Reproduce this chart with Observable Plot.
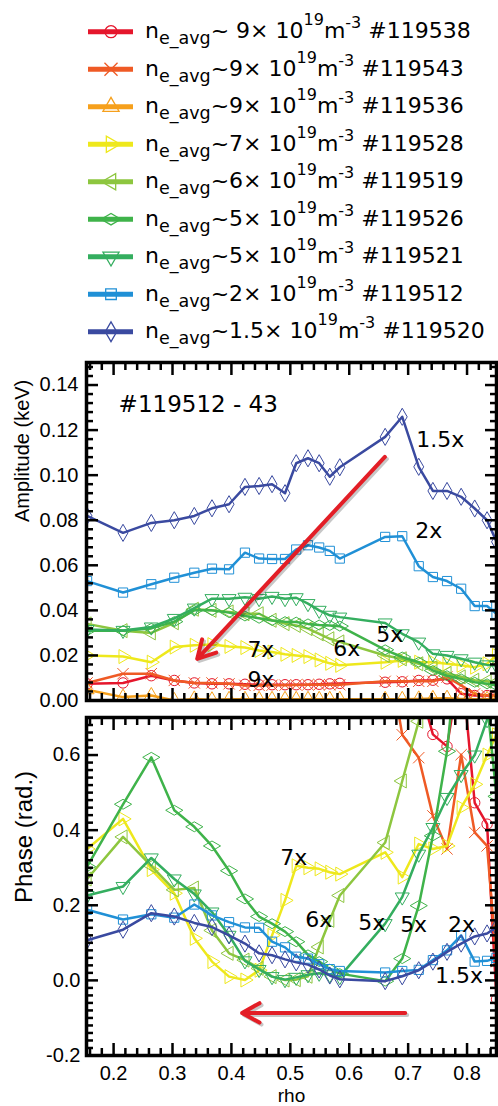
<!DOCTYPE html>
<html><head><meta charset="utf-8">
<script src="https://cdn.jsdelivr.net/npm/d3@7"></script>
<script src="https://cdn.jsdelivr.net/npm/@observablehq/plot@0.6"></script>
<style>
body{margin:0;background:#fff;width:498px;height:1106px;overflow:hidden;position:relative}
#legend{position:absolute;left:0;top:0}
#amp{position:absolute;left:0;top:345px}
#phase{position:absolute;left:0;top:708px}
</style></head><body>
<div id="legend"></div><div id="amp"></div><div id="phase"></div>
<script>
// ---------- data ----------
const shots = ["#119538","#119543","#119536","#119528","#119519","#119526","#119521","#119512","#119520"];
const density = ["9","9","9","7","6","5","5","2","1.5"];
const colors = ["#e5162c","#ef5a25","#f6a01c","#eee81c","#8dc63f","#3fb34a","#34ae5f","#2090d6","#3a4aa0"];
const symbols = ["circle","times","triangle","triangle","triangle","diamond","triangle","square","diamond"];
const rotations = [0,0,0,90,-90,90,180,0,0];

const rho = [0.155,0.216,0.264,0.303,0.337,0.367,0.396,0.423,0.447,0.469,0.491,0.510,0.530,0.549,0.567,0.584,0.661,0.690,0.718,0.742,0.766,0.790,0.813,0.834,0.850];

// amplitude (keV)
const amp119538 = [0.0074,0.0078,0.0110,0.0089,0.0078,0.0074,0.0074,0.0072,0.0070,0.0070,0.0070,0.0070,0.0070,0.0072,0.0074,0.0076,0.0081,0.0083,0.0089,0.0090,0.0096,0.0030,0.0022,0.0022,0.0022];
const amp119543 = [0.0078,0.0119,0.0119,0.0089,0.0078,0.0078,0.0074,0.0067,0.0067,0.0068,0.0068,0.0069,0.0070,0.0070,0.0070,0.0070,0.0085,0.0085,0.0085,0.0085,0.0104,0.0067,0.0030,0.0022,0.0020];
const amp119536 = [0.0048,0.0015,0.0022,0.0000,0.0007,0.0003,0.0005,0.0005,0.0005,0.0005,0.0005,0.0005,0.0005,0.0005,0.0005,0.0005,0.0005,0.0005,0.0007,0.0009,0.0010,0.0007,0.0005,0.0005,0.0005];
const amp119528 = [0.0200,0.0195,0.0170,0.0237,0.0245,0.0248,0.0240,0.0235,0.0222,0.0215,0.0205,0.0200,0.0195,0.0180,0.0165,0.0156,0.0170,0.0178,0.0170,0.0170,0.0163,0.0156,0.0148,0.0163,0.0200];
const amp119519 = [0.0340,0.0310,0.0300,0.0345,0.0405,0.0400,0.0393,0.0385,0.0385,0.0356,0.0341,0.0333,0.0319,0.0296,0.0274,0.0260,0.0200,0.0185,0.0163,0.0145,0.0120,0.0105,0.0090,0.0085,0.0080];
const amp119526 = [0.0310,0.0310,0.0320,0.0350,0.0400,0.0400,0.0390,0.0375,0.0365,0.0355,0.0350,0.0348,0.0340,0.0335,0.0333,0.0330,0.0225,0.0193,0.0170,0.0133,0.0110,0.0096,0.0081,0.0074,0.0067];
const amp119521 = [0.0315,0.0311,0.0326,0.0364,0.0410,0.0452,0.0452,0.0458,0.0452,0.0462,0.0452,0.0456,0.0430,0.0400,0.0378,0.0370,0.0344,0.0296,0.0259,0.0207,0.0200,0.0185,0.0170,0.0158,0.0155];
const amp119512 = [0.0530,0.0479,0.0516,0.0545,0.0567,0.0585,0.0582,0.0656,0.0630,0.0628,0.0628,0.0670,0.0689,0.0679,0.0664,0.0630,0.0726,0.0729,0.0596,0.0548,0.0530,0.0496,0.0419,0.0419,0.0385];
const amp119520 = [0.0819,0.0744,0.0788,0.0800,0.0819,0.0853,0.0871,0.0948,0.0952,0.0960,0.0920,0.1053,0.1075,0.1053,0.0993,0.1035,0.1170,0.1259,0.1037,0.0930,0.0930,0.0904,0.0852,0.0800,0.0704];

// phase (rad.)
const N = null;
const ph119538 = [N,N,N,N,N,N,N,N,N,N,N,N,N,N,N,N,N,N,0.790,0.655,0.623,0.853,0.473,0.416,-0.050];
const ph119543 = [N,N,N,N,N,N,N,N,N,N,N,N,N,N,N,N,0.920,0.654,0.593,0.438,0.350,0.601,0.394,0.358,0.050];
const ph119536 = [N,N,N,N,N,N,N,N,N,N,N,N,N,N,N,N,N,N,N,N,N,N,N,N,N];
const ph119528 = [0.350,0.430,0.295,0.232,0.112,0.050,0.010,0.001,0.027,0.120,0.213,0.305,0.300,0.297,0.288,0.283,0.341,0.275,0.363,0.350,0.358,0.460,0.522,0.600,0.654];
const ph119519 = [0.270,0.382,0.305,0.241,0.246,0.133,0.072,0.054,0.032,0.010,0.001,0.002,0.011,0.089,0.160,0.226,0.367,0.531,0.690,0.950,N,N,N,N,N];
const ph119526 = [0.303,0.469,0.594,0.453,0.409,0.358,0.292,0.217,0.170,0.151,0.130,0.103,0.068,0.050,0.030,0.018,-0.002,0.058,0.199,0.385,0.610,0.990,0.950,0.740,0.490];
const ph119521 = [0.226,0.250,0.326,0.270,0.230,0.182,0.120,0.052,0.029,0.010,0.002,0.008,0.015,0.019,0.015,0.010,0.151,0.222,0.336,0.407,0.487,0.548,0.600,0.694,0.800];
const ph119512 = [0.188,0.162,0.176,0.167,0.202,0.173,0.155,0.141,0.140,0.103,0.088,0.063,0.058,0.043,0.030,0.025,0.021,0.025,0.028,0.054,0.080,0.120,0.050,0.052,0.060];
const ph119520 = [0.107,0.135,0.179,0.170,0.153,0.142,0.120,0.098,0.072,0.067,0.056,0.048,0.042,0.029,0.013,0.003,-0.002,0.011,0.027,0.050,0.076,0.098,0.117,0.125,0.142];

// tick labels
const xTicks = [0.2,0.3,0.4,0.5,0.6,0.7,0.8];
const ampTicks = [0,0.02,0.04,0.06,0.08,0.10,0.12,0.14];
const phaseTicks = [-0.2,0,0.2,0.4,0.6];

// annotations
const ampLabels = [
  {t:"#119512 - 43", x:0.2085, y:0.128, s:23},
  {t:"1.5x", x:0.7136, y:0.1124, s:22},
  {t:"2x", x:0.7119, y:0.072, s:22},
  {t:"5x", x:0.6458, y:0.0258, s:22},
  {t:"6x", x:0.5729, y:0.0196, s:22},
  {t:"7x", x:0.4271, y:0.0191, s:22},
  {t:"9x", x:0.4271, y:0.0058, s:22}
];
const phaseLabels = [
  {t:"7x", x:0.483, y:0.307},
  {t:"6x", x:0.5254, y:0.143},
  {t:"5x", x:0.6153, y:0.135},
  {t:"5x", x:0.6864, y:0.130},
  {t:"2x", x:0.7678, y:0.130},
  {t:"1.5x", x:0.7458, y:-0.008}
];
const ampArrow = [{x1:0.6605, y1:0.1081, x2:0.342, y2:0.0185}];
const phaseArrow = [{x1:0.695, y1:-0.0866, x2:0.418, y2:-0.0866}];

const amps = [amp119538,amp119543,amp119536,amp119528,amp119519,amp119526,amp119521,amp119512,amp119520];
const phases = [ph119538,ph119543,ph119536,ph119528,ph119519,ph119526,ph119521,ph119512,ph119520];

// ---------- legend ----------
const symbolMap = {circle:d3.symbolCircle, times:d3.symbolTimes, triangle:d3.symbolTriangle, diamond:d3.symbolDiamond, square:d3.symbolSquare};
const leg = d3.select("#legend").append("svg").attr("width",498).attr("height",362)
  .attr("font-family","DejaVu Sans").style("display","block");
shots.forEach((s,i)=>{
  const cy = 31.7 + 37.5*i;
  leg.append("line").attr("x1",88).attr("x2",133).attr("y1",cy).attr("y2",cy)
     .attr("stroke",colors[i]).attr("stroke-width",5);
  leg.append("path").attr("d", d3.symbol(symbolMap[symbols[i]], 6*6*Math.PI)())
     .attr("transform",`translate(111,${cy}) rotate(${rotations[i]})`)
     .attr("fill","none").attr("stroke",colors[i]).attr("stroke-width",1.3);
  const t = leg.append("text").attr("x",145).attr("y",cy+6.6).attr("font-size",22)
     .attr("fill","#000").style("white-space","pre");
  t.append("tspan").text("n");
  t.append("tspan").attr("font-size",17.5).attr("dy",6).text("e_avg");
  t.append("tspan").attr("dy",-6).text("~" + (i===0?" ":"") + density[i] + "\u00d7 10");
  t.append("tspan").attr("font-size",16).attr("dy",-13).text("19");
  t.append("tspan").attr("dy",13).text("m");
  t.append("tspan").attr("font-size",16).attr("dy",-10).text("-3");
  t.append("tspan").attr("dy",10).text(" " + s);
});

// ---------- shared ----------
const xMinor = d3.range(8,43).filter(k=>k%5!==0).map(k=>+(k*0.02).toFixed(2));
const ampMinor = d3.range(1,38).filter(k=>k%5!==0).map(k=>+(k*0.004).toFixed(3));
const phMinor = d3.range(-9,35).filter(k=>k%10!==0).map(k=>+(k*0.02).toFixed(2));
const TW = 2.5;

function tickMarks(yMajor, yMinor){
  const o = {fill:"none", strokeWidth:TW, stroke:"#000"};
  return [
    Plot.axisX(xMinor, {...o, anchor:"bottom", tickSize:-7}),
    Plot.axisX(xMinor, {...o, anchor:"top", tickSize:-7}),
    Plot.axisX(xTicks, {...o, anchor:"bottom", tickSize:-12}),
    Plot.axisX(xTicks, {...o, anchor:"top", tickSize:-12}),
    Plot.axisY(yMinor, {...o, anchor:"left", tickSize:-7}),
    Plot.axisY(yMinor, {...o, anchor:"right", tickSize:-7}),
    Plot.axisY(yMajor, {...o, anchor:"left", tickSize:-12}),
    Plot.axisY(yMajor, {...o, anchor:"right", tickSize:-12})
  ];
}
function seriesMarks(vals){
  const out = [];
  vals.forEach((arr,i)=>{
    const rows = rho.map((r,j)=>({rho:r, v:arr[j]}));
    out.push(Plot.line(rows, {x:"rho", y:"v", stroke:colors[i], strokeWidth:2.5, clip:true}));
    out.push(Plot.dot(rows.filter(d=>d.v!=null), {x:"rho", y:"v", symbol:symbols[i], rotate:rotations[i], r:5.2,
      stroke:colors[i], strokeWidth:1, fill:"none", clip:true}));
  });
  return out;
}
function arrowMarks(a){
  const o = {x1:"x1",y1:"y1",x2:"x2",y2:"y2", strokeWidth:4, headLength:7.5, headAngle:58};
  return [
    Plot.arrow(a, {...o, stroke:"#000", strokeOpacity:0.22, dx:2, dy:2}),
    Plot.arrow(a, {...o, stroke:"#e31e26"})
  ];
}
const style = {fontFamily:"Liberation Sans", fontSize:"20px", color:"#000", background:"transparent", overflow:"visible"};

// ---------- amplitude ----------
const ampPlot = Plot.plot({
  width:498, height:363, marginLeft:86, marginRight:2, marginTop:17, marginBottom:8,
  style,
  x:{domain:[0.154,0.85]},
  y:{domain:[0,0.15]},
  marks:[
    ...seriesMarks(amps),
    ...arrowMarks(ampArrow),
    Plot.text(ampLabels, {x:"x", y:"y", text:"t", fontSize:"s", textAnchor:"start", lineAnchor:"bottom", fontFamily:"DejaVu Sans", fill:"#000"}),
    ...tickMarks(ampTicks, ampMinor),
    Plot.axisY(ampTicks, {anchor:"left", tickSize:0, tickPadding:8, tickFormat:d=>d.toFixed(2), label:null}),
    Plot.text(["Amplitude (keV)"], {frameAnchor:"left", rotate:-90, dx:-63.5, dy:-9.5, fontSize:20, fill:"#000"}),
    Plot.frame({stroke:"#000", strokeWidth:3.5})
  ]
});
document.getElementById("amp").append(ampPlot);

// ---------- phase ----------
const phPlot = Plot.plot({
  width:498, height:398, marginLeft:86, marginRight:2, marginTop:9, marginBottom:51,
  style,
  x:{domain:[0.154,0.85]},
  y:{domain:[-0.2,0.7]},
  marks:[
    ...seriesMarks(phases),
    ...arrowMarks(phaseArrow),
    Plot.text(phaseLabels, {x:"x", y:"y", text:"t", fontSize:22, textAnchor:"start", lineAnchor:"bottom", fontFamily:"DejaVu Sans", fill:"#000"}),
    ...tickMarks(phaseTicks, phMinor),
    Plot.axisY(phaseTicks, {anchor:"left", tickSize:0, tickPadding:6, tickFormat:d=>d.toFixed(1), label:null}),
    Plot.axisX(xTicks, {anchor:"bottom", tickSize:0, tickPadding:10, tickFormat:d=>d.toFixed(1), label:null}),
    Plot.text(["Phase (rad.)"], {frameAnchor:"left", rotate:-90, dx:-62, dy:16.5, fontSize:24, fill:"#000"}),
    Plot.text(["rho"], {frameAnchor:"bottom", lineAnchor:"bottom", dy:46.5, fontSize:19, fill:"#000"}),
    Plot.frame({stroke:"#000", strokeWidth:3.5})
  ]
});
document.getElementById("phase").append(phPlot);
</script>
</body></html>
